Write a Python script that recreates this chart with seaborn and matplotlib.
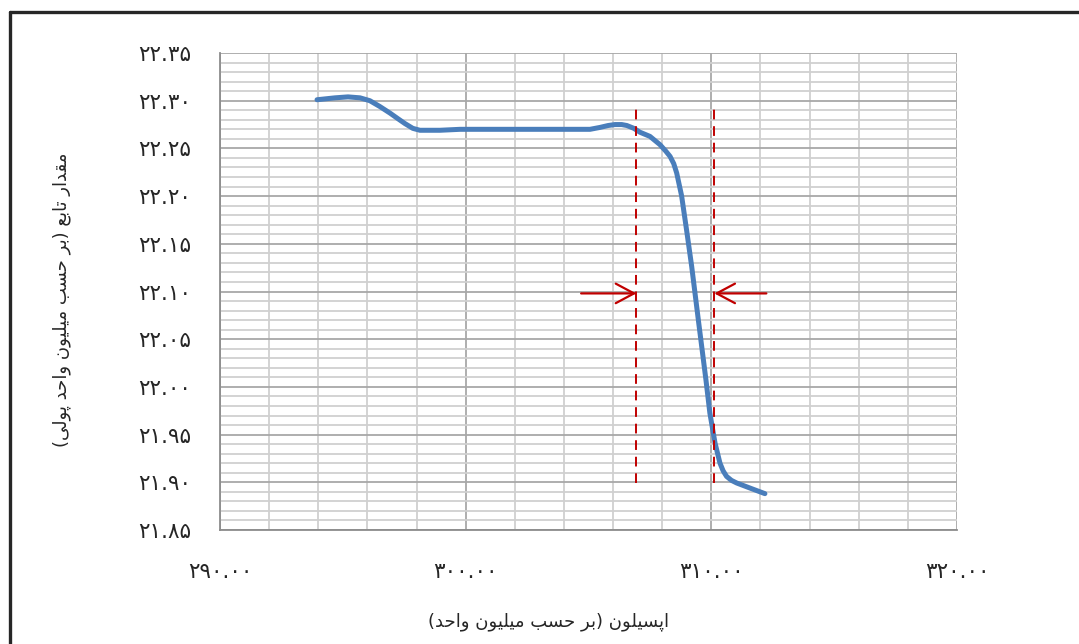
import matplotlib
matplotlib.use("Agg")
import matplotlib.pyplot as plt
import matplotlib.ticker as mticker
from matplotlib.lines import Line2D
import seaborn as sns
import pandas as pd

# ---------------- data ----------------
eps = [293.95, 294.68, 295.21, 295.70, 296.10, 296.50, 296.92, 297.25, 297.53, 297.85,
       298.14, 298.95, 299.77, 301.0, 302.0, 303.0, 304.0, 305.06, 305.47, 305.80,
       306.08, 306.35, 306.56, 306.85, 307.09, 307.50, 307.91, 308.15, 308.32, 308.47,
       308.59, 308.79, 308.99, 309.20, 309.47, 309.78, 309.94, 310.15, 310.35, 310.48,
       310.62, 310.82, 311.03, 311.57, 312.18]
value = [22.301, 22.303, 22.304, 22.303, 22.300, 22.294, 22.287, 22.281, 22.276, 22.271,
         22.269, 22.269, 22.270, 22.270, 22.270, 22.270, 22.270, 22.270, 22.272, 22.274,
         22.275, 22.275, 22.274, 22.271, 22.267, 22.2626, 22.2539, 22.247, 22.2416, 22.234,
         22.2242, 22.2003, 22.1648, 22.1263, 22.0704, 22.0075, 21.9726, 21.9412, 21.9202, 21.912,
         21.9062, 21.902, 21.8993, 21.8940, 21.8881]

marker_x = [306.95, 310.12]          # dashed red limits
marker_y = [21.899, 22.297]
arrow_y = 22.098
arrow_tail = [304.7, 312.24]
arrow_head = [306.95, 310.12]

xticks = [290, 300, 310, 320]
xtick_labels = ["۲۹۰.۰۰", "۳۰۰.۰۰", "۳۱۰.۰۰", "۳۲۰.۰۰"]
yticks = [21.85, 21.90, 21.95, 22.00, 22.05, 22.10, 22.15, 22.20, 22.25, 22.30, 22.35]
ytick_labels = ["۲۱.۸۵", "۲۱.۹۰", "۲۱.۹۵", "۲۲.۰۰", "۲۲.۰۵", "۲۲.۱۰",
                "۲۲.۱۵", "۲۲.۲۰", "۲۲.۲۵", "۲۲.۳۰", "۲۲.۳۵"]
xlabel = "اپسیلون (بر حسب میلیون واحد)"
ylabel = "مقدار تابع (بر حسب میلیون واحد پولی)"

# ---------------- minimal Persian shaping ----------------
FORMS = {  # iso, fin, ini, med
    "ا": ("\uFE8D", "\uFE8E", None, None),
    "ب": ("\uFE8F", "\uFE90", "\uFE91", "\uFE92"),
    "پ": ("\uFB56", "\uFB57", "\uFB58", "\uFB59"),
    "ت": ("\uFE95", "\uFE96", "\uFE97", "\uFE98"),
    "ح": ("\uFEA1", "\uFEA2", "\uFEA3", "\uFEA4"),
    "د": ("\uFEA9", "\uFEAA", None, None),
    "ر": ("\uFEAD", "\uFEAE", None, None),
    "س": ("\uFEB1", "\uFEB2", "\uFEB3", "\uFEB4"),
    "ع": ("\uFEC9", "\uFECA", "\uFECB", "\uFECC"),
    "ق": ("\uFED5", "\uFED6", "\uFED7", "\uFED8"),
    "ل": ("\uFEDD", "\uFEDE", "\uFEDF", "\uFEE0"),
    "م": ("\uFEE1", "\uFEE2", "\uFEE3", "\uFEE4"),
    "ن": ("\uFEE5", "\uFEE6", "\uFEE7", "\uFEE8"),
    "و": ("\uFEED", "\uFEEE", None, None),
    "ی": ("\uFBFC", "\uFBFD", "\uFBFE", "\uFBFF"),
}


def shape(text):
    try:
        import arabic_reshaper
        from bidi.algorithm import get_display
        return get_display(arabic_reshaper.reshape(text))
    except Exception:
        pass
    out = []
    n = len(text)
    for i, ch in enumerate(text):
        if ch not in FORMS:
            out.append(ch)
            continue
        f = FORMS[ch]
        prev = text[i - 1] if i > 0 else ""
        nxt = text[i + 1] if i < n - 1 else ""
        join_prev = prev in FORMS and FORMS[prev][2] is not None
        join_next = nxt in FORMS and f[2] is not None
        if join_prev and join_next:
            out.append(f[3])
        elif join_prev:
            out.append(f[1])
        elif join_next:
            out.append(f[2])
        else:
            out.append(f[0])
    vis = "".join(reversed(out))
    return vis.translate(str.maketrans("()", ")("))


# ---------------- plot ----------------
sns.set_theme(style="white")
plt.rcParams["font.family"] = ["DejaVu Sans"]

fig = plt.figure(figsize=(10.79, 6.44), dpi=100)
ax = fig.add_axes([220 / 1079, (644 - 530) / 644, (957 - 220) / 1079, (530 - 53) / 644])

df = pd.DataFrame({"eps": eps, "value": value})
sns.lineplot(data=df, x="eps", y="value", ax=ax, sort=False, estimator=None,
             color="#4a7ebb", linewidth=3.6, zorder=5)
ax.lines[-1].set_solid_joinstyle("round")
ax.lines[-1].set_solid_capstyle("round")

for mx in marker_x:
    ax.plot([mx, mx], marker_y, color="#c00000", lw=1.4, ls=(0, (5, 3.5)), zorder=6)

for t, h in zip(arrow_tail, arrow_head):
    ax.annotate("", xy=(h, arrow_y), xytext=(t, arrow_y),
                arrowprops=dict(arrowstyle="->,head_length=0.6,head_width=0.32",
                                color="#c00000", lw=1.6, mutation_scale=22,
                                shrinkA=0, shrinkB=0), zorder=7)

ax.set_xlim(290, 320)
ax.set_ylim(21.85, 22.35)
ax.xaxis.set_major_locator(mticker.FixedLocator(xticks))
ax.xaxis.set_minor_locator(mticker.MultipleLocator(2))
ax.yaxis.set_major_locator(mticker.FixedLocator(yticks))
ax.yaxis.set_minor_locator(mticker.MultipleLocator(0.01))
ax.set_xticklabels(xtick_labels, fontsize=15.5)
ax.set_yticklabels(ytick_labels, fontsize=15.5)

ax.grid(True, which="minor", color="#d0d0d0", lw=1.3, zorder=0)
ax.grid(True, which="major", color="#a8a8a8", lw=1.3, zorder=1)
ax.set_axisbelow(True)

ax.tick_params(axis="both", which="major", direction="out", length=7, width=1.2,
               color="#8c8c8c", pad=14)
ax.tick_params(axis="both", which="minor", length=0)
ax.tick_params(axis="x", pad=16)

for side in ["left", "bottom"]:
    ax.spines[side].set_color("#8c8c8c")
    ax.spines[side].set_linewidth(1.3)
for side in ["top", "right"]:
    ax.spines[side].set_visible(False)

ax.set_xlabel("")
ax.set_ylabel("")
fig.text(548 / 1079, 1 - 622 / 644, shape(xlabel), ha="center", va="center", fontsize=13)
fig.text(62 / 1079, 1 - 300 / 644, shape(ylabel), ha="center", va="center",
         fontsize=13, rotation=90)

# outer frame (left and top edges visible)
fig.add_artist(Line2D([10 / 1079, 10 / 1079], [0, 1 - 12 / 644], color="#262626", lw=2.4,
                      transform=fig.transFigure))
fig.add_artist(Line2D([10 / 1079, 1], [1 - 12 / 644, 1 - 12 / 644], color="#262626", lw=2.4,
                      transform=fig.transFigure))

fig.savefig("out.png", dpi=100)
